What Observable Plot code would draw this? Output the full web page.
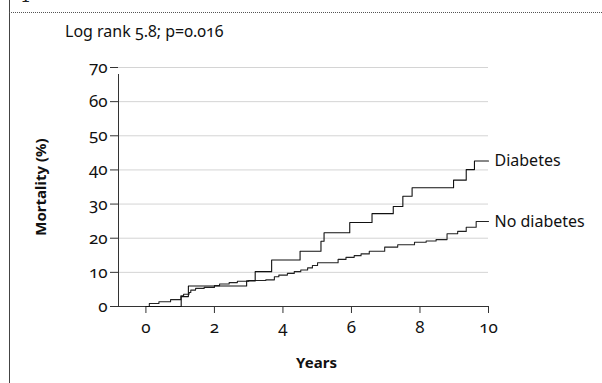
<!DOCTYPE html>
<html>
<head>
<meta charset="utf-8">
<script src="https://cdn.jsdelivr.net/npm/d3@7"></script>
<script src="https://cdn.jsdelivr.net/npm/@observablehq/plot@0.6"></script>
<style>
  body { margin: 0; background: #fff; }
  #wrap { position: relative; width: 602px; height: 383px; overflow: hidden; font-family: "Noto Sans", sans-serif; }
  #vline { position: absolute; left: 9px; top: 0; width: 1px; height: 383px; background: #444; }
  #hline { position: absolute; left: 9px; right: 0; top: 12px; border-top: 1px dotted #555; }
  #cut { position: absolute; left: 20px; top: -15px; font: 18px "DejaVu Serif", serif; color: #222; }
  #sub { position: absolute; left: 65px; top: 20px; font-size: 16px; color: #111; font-variant-numeric: oldstyle-nums; white-space: nowrap; }
  #chart { position: absolute; left: 0; top: 0; }
</style>
</head>
<body>
<div id="wrap">
  <div id="chart"></div>
  <div id="vline"></div>
  <div id="hline"></div>
  <div id="cut">1</div>
  <div id="sub">Log rank 5.8; p=0.016</div>
</div>
<script>
const subtitle = "Log rank 5.8; p=0.016";
const xLabel = "Years";
const yLabel = "Mortality (%)";
const xTicks = [0, 2, 4, 6, 8, 10];
const yTicks = [0, 10, 20, 30, 40, 50, 60, 70];
const seriesNames = ["Diabetes", "No diabetes"];

const diabetesYears = [0, 1.03, 1.24, 2.94, 3.19, 3.67, 4.5, 5.11, 5.2, 5.95, 6.6, 7.22, 7.5, 7.77, 8.98, 9.35, 9.59, 10];
const diabetesMortality = [0, 2.9, 6.0, 7.5, 10.2, 13.6, 16.2, 19.1, 21.6, 24.6, 27.2, 29.3, 32.3, 34.8, 37.0, 40.1, 42.6, 42.6];

const noDiabetesYears = [0, 0.1, 0.38, 0.72, 1.02, 1.1, 1.26, 1.31, 1.45, 1.7, 2.0, 2.15, 2.43, 2.67, 3.0, 3.5, 3.75, 3.88, 4.13, 4.33, 4.52, 4.72, 4.86, 5.01, 5.61, 5.84, 6.08, 6.28, 6.52, 6.97, 7.35, 7.84, 8.18, 8.47, 8.79, 9.1, 9.35, 9.64, 10];
const noDiabetesMortality = [0, 0.9, 1.4, 2.0, 3.1, 3.6, 4.1, 4.8, 5.3, 5.6, 6.1, 6.6, 7.0, 7.4, 7.6, 7.8, 8.7, 9.2, 9.7, 10.2, 10.7, 11.3, 12.0, 12.8, 13.8, 14.4, 14.9, 15.4, 16.2, 17.4, 18.1, 18.8, 19.2, 19.6, 21.3, 22.0, 23.2, 24.9, 24.9];

const diabetes = diabetesYears.map((x, i) => ({x, y: diabetesMortality[i]}));
const noDiabetes = noDiabetesYears.map((x, i) => ({x, y: noDiabetesMortality[i]}));
const ends = [
  {x: diabetesYears.at(-1), y: diabetesMortality.at(-1), name: seriesNames[0]},
  {x: noDiabetesYears.at(-1), y: noDiabetesMortality.at(-1), name: seriesNames[1]}
];
const xMin = -0.8;

const chart = Plot.plot({
  width: 602,
  height: 383,
  marginLeft: 118,
  marginRight: 114,
  marginTop: 67,
  marginBottom: 77,
  x: {domain: [xMin, 10]},
  y: {domain: [0, 70]},
  style: {fontFamily: "'Noto Sans', sans-serif", fontSize: "16px", color: "#111", overflow: "visible"},
  marks: [
    Plot.gridY(yTicks.filter(d => d > 0), {stroke: "#d4d4d4", strokeOpacity: 1}),
    Plot.axisY({ticks: yTicks, tickSize: 8, tickPadding: 3, label: null, stroke: "#333", fontSize: 17, fontVariant: "oldstyle-nums"}),
    Plot.axisY({ticks: [], label: yLabel, labelAnchor: "center", labelArrow: "none", labelOffset: 83, fontWeight: "bold", fontSize: 15}),
    Plot.axisX({ticks: xTicks, tickSize: 7, tickPadding: 7, label: null, stroke: "#333", fontSize: 17, fontVariant: "oldstyle-nums"}),
    Plot.ruleY([0], {stroke: "#333"}),
    Plot.ruleX([xMin], {y1: 0, y2: 70, stroke: "#333", insetBottom: -7}),
    Plot.line(noDiabetes, {x: "x", y: "y", curve: "step-after", stroke: "#222", strokeWidth: 1.1}),
    Plot.line(diabetes, {x: "x", y: "y", curve: "step-after", stroke: "#111", strokeWidth: 1.1}),
    Plot.text(ends, {x: "x", y: "y", text: "name", textAnchor: "start", dx: 6, fontSize: 16, fill: "#111"}),
    Plot.text([xLabel], {frameAnchor: "bottom", dx: 13, dy: 61, fontWeight: "bold", fontSize: 15, fill: "#111"})
  ]
});
document.getElementById("chart").append(chart);
</script>
</body>
</html>
